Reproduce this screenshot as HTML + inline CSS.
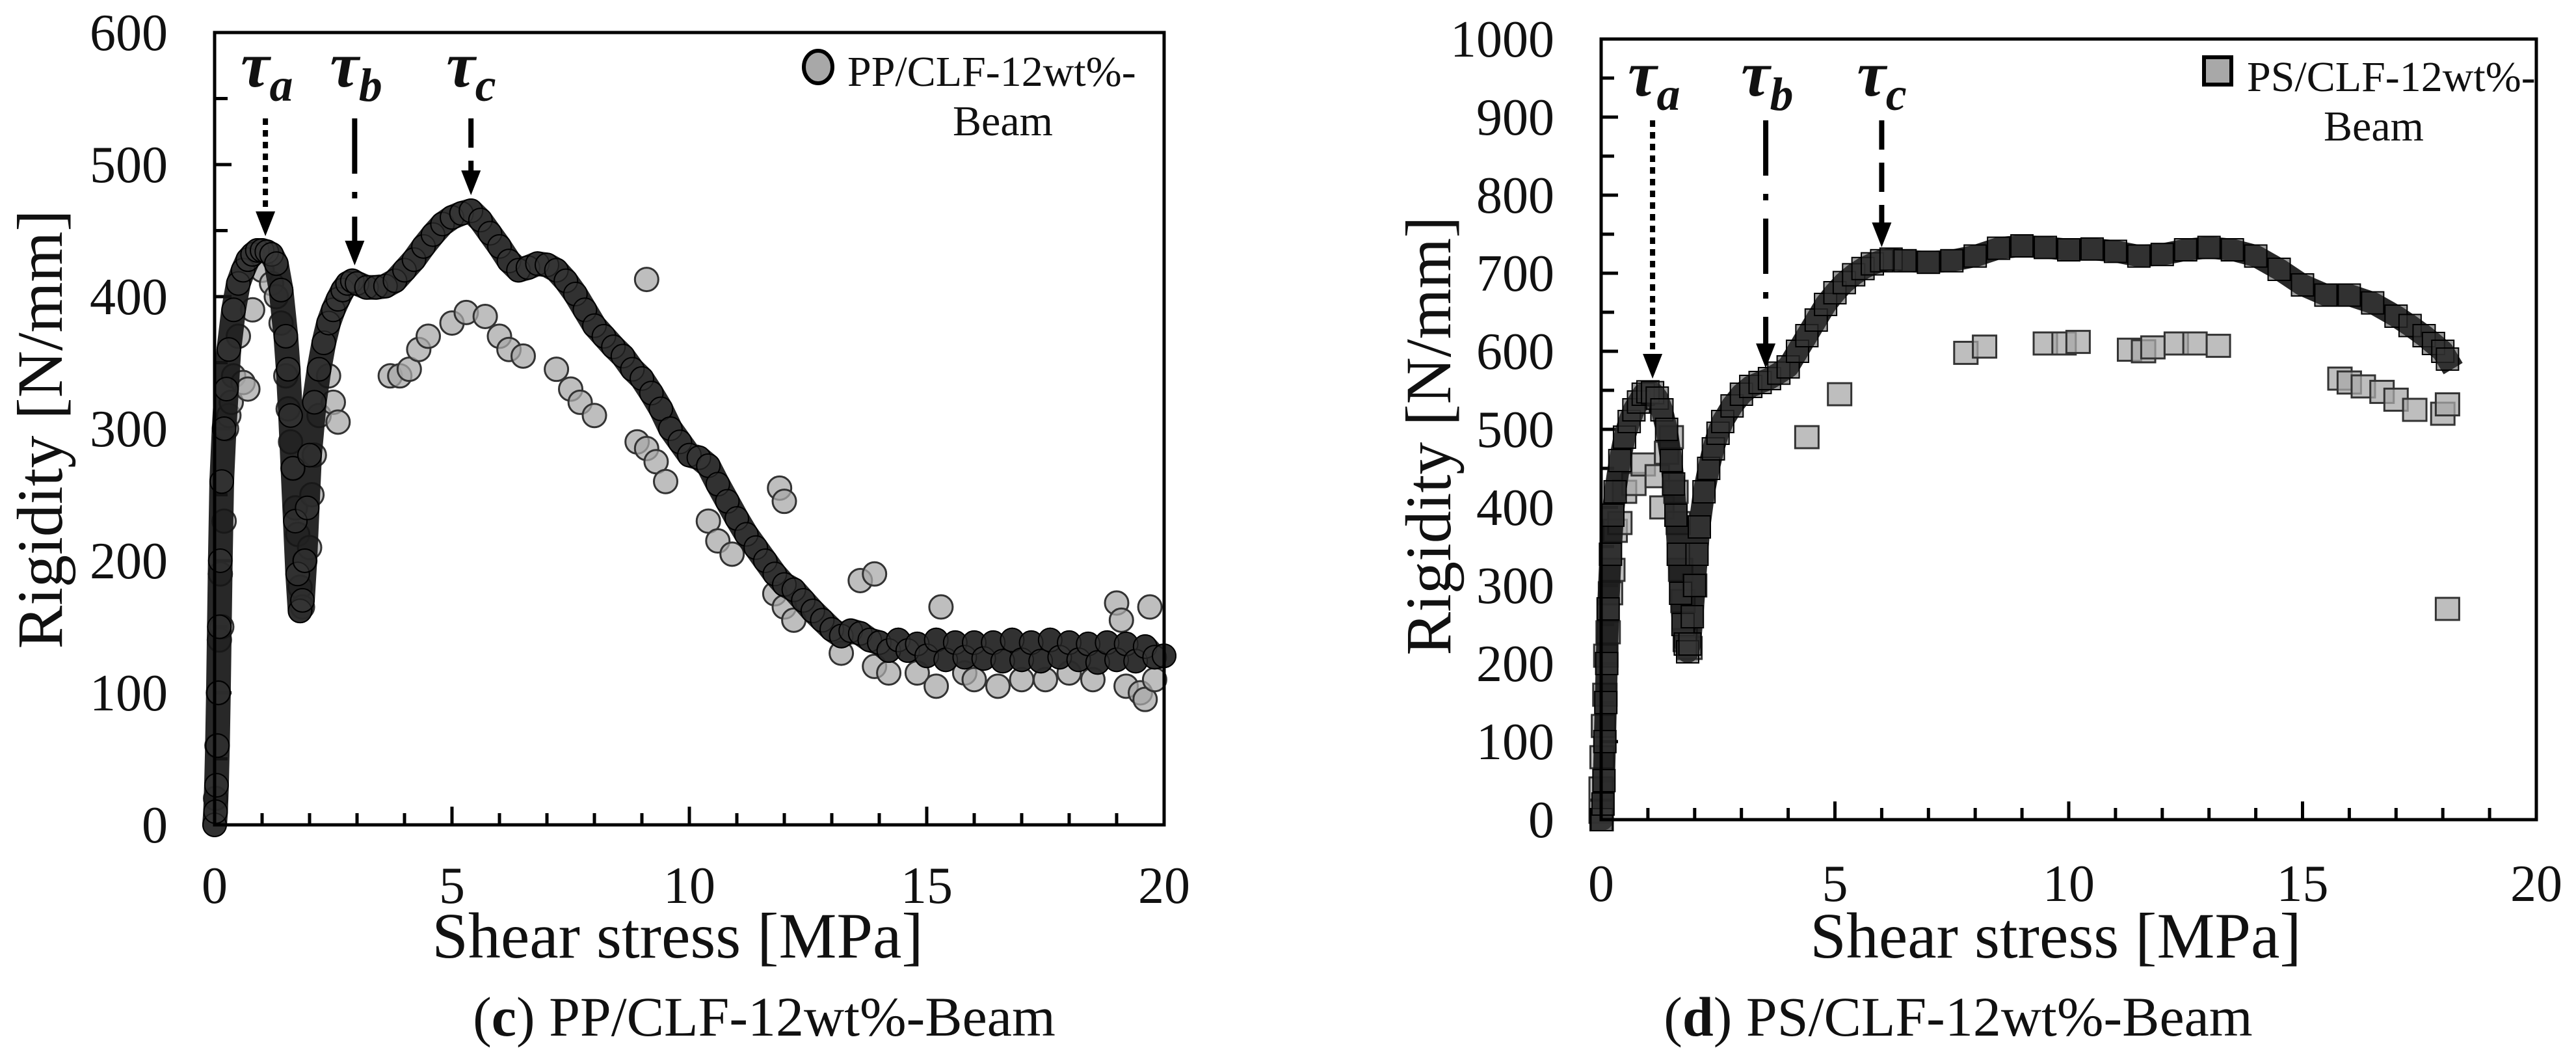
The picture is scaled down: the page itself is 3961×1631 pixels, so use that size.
<!DOCTYPE html>
<html><head><meta charset="utf-8"><style>
html,body{margin:0;padding:0;background:#fff;}
svg{display:block;}
text{font-family:"Liberation Serif",serif;fill:#111;}
</style></head><body>
<svg id="fig" width="3961" height="1631" viewBox="0 0 3961 1631" xmlns="http://www.w3.org/2000/svg">
<g id="panelC"></g>
<g id="panelD"></g>
</svg>
<script>
// ---- Panel (c) PP/CLF-12wt%-Beam data ----
const ppDarkX=[0,0.02,0.04,0.06,0.08,0.1,0.12,0.15,0.2,0.25,0.3,0.4,0.5,0.6,0.7,0.8,0.9,1.0,1.1,1.2,1.3,1.4,1.5,1.55,1.6,1.65,1.7,1.75,1.8,1.85,1.9,1.95,2.0,2.1,2.2,2.3,2.4,2.5,2.6,2.7,2.8,2.9,3.0,3.2,3.4,3.6,3.8,4.0,4.2,4.4,4.6,4.8,5.0,5.2,5.4,5.6,5.8,6.0,6.2,6.4,6.6,6.8,7.0,7.2,7.4,7.6,7.8,8.0,8.2,8.4,8.6,8.8,9.0,9.2,9.4,9.6,9.8,10.0,10.2,10.4,10.6,10.8,11.0,11.2,11.4,11.6,11.8,12.0,12.2,12.4,12.6,12.8,13.0,13.2,13.4,13.6,13.8,14.0,14.2,14.4,14.6,14.8,15.0,15.2,15.4,15.6,15.8,16.0,16.2,16.4,16.6,16.8,17.0,17.2,17.4,17.6,17.8,18.0,18.2,18.4,18.6,18.8,19.0,19.2,19.4,19.6,19.8,20.0];
const ppDarkY=[0,10,30,60,100,150,200,260,300,330,360,390,410,420,428,432,435,435,434,432,425,405,370,345,310,270,230,190,162,170,200,240,280,320,345,365,380,390,398,405,410,412,410,407,407,408,412,420,428,438,447,455,460,463,465,458,448,438,427,420,422,425,424,420,412,402,390,378,370,362,355,345,338,327,315,300,290,280,278,272,258,245,232,220,210,200,190,182,178,170,162,155,148,143,147,145,140,138,132,140,132,137,128,140,125,138,127,138,126,138,124,140,125,138,124,140,127,138,125,137,123,138,125,137,124,135,127,128];
const ppLightX=[0.02,0.05,0.08,0.1,0.12,0.15,0.2,0.25,0.3,0.35,0.4,0.5,0.6,0.7,0.8,1.0,1.2,1.3,1.4,1.5,1.55,1.6,1.65,1.7,1.75,1.8,1.85,1.9,2.0,2.05,2.1,2.2,2.4,2.5,2.6,3.7,3.9,4.1,4.3,4.5,5.0,5.3,5.7,6.0,6.2,6.5,7.2,7.5,7.7,8.0,8.9,9.1,9.3,9.5,9.1,10.4,10.6,10.9,11.9,12.0,11.8,12.0,12.2,13.2,13.6,13.9,13.9,14.2,14.8,15.2,15.3,15.8,16.0,16.5,17.0,17.5,18.0,18.5,19.0,19.1,19.2,19.5,19.7,19.6,19.8];
const ppLightY=[20,60,100,140,190,150,230,300,310,320,340,370,335,330,390,420,410,400,380,340,315,290,270,240,220,180,165,200,210,250,280,310,340,320,305,340,340,345,360,370,380,388,385,370,360,355,345,330,320,310,290,285,275,260,413,230,215,205,255,245,175,165,155,130,185,190,120,115,115,105,165,115,110,105,110,110,115,110,168,155,105,100,165,95,110];
const ppYTicks=[0,100,200,300,400,500,600];
const ppXTicks=[0,5,10,15,20];
// ---- Panel (d) PS/CLF-12wt%-Beam data ----
const psDarkX=[0,0.02,0.04,0.06,0.08,0.1,0.12,0.15,0.2,0.25,0.3,0.4,0.5,0.6,0.7,0.8,0.9,1.0,1.1,1.2,1.3,1.4,1.5,1.55,1.6,1.65,1.7,1.75,1.8,1.85,1.9,1.95,2.0,2.05,2.1,2.2,2.3,2.4,2.5,2.6,2.8,3.0,3.2,3.4,3.6,3.8,4.0,4.2,4.4,4.6,4.8,5.0,5.2,5.4,5.6,5.8,6.0,6.2,6.5,7.0,7.5,8.0,8.5,9.0,9.5,10.0,10.5,11.0,11.5,12.0,12.5,13.0,13.5,14.0,14.5,15.0,15.5,16.0,16.5,17.0,17.3,17.6,17.8,18.0,18.1];
const psDarkY=[0,0,20,50,100,150,200,270,340,390,420,460,490,510,525,535,545,548,547,540,525,500,460,430,390,340,290,250,225,215,225,260,300,340,375,420,450,475,495,510,530,545,555,560,565,572,580,600,620,640,660,675,688,698,706,712,716,718,716,714,716,722,732,735,733,730,731,728,722,724,730,733,730,722,705,685,672,672,662,645,633,620,610,600,590];
const psLightX=[0,0,0.02,0.05,0.08,0.1,0.15,0.2,0.25,0.3,0.4,0.5,0.7,0.9,1.2,1.3,1.4,1.5,1.6,1.65,1.7,1.75,1.8,1.9,2.0,4.4,5.1,7.8,8.2,9.5,9.9,10.2,11.3,11.6,11.8,12.3,12.7,13.2,15.8,16.0,16.3,16.7,17.0,17.4,18.0,18.1,18.1];
const psLightY=[10,40,80,120,160,210,240,290,320,370,380,420,430,455,440,400,470,490,420,380,320,280,230,220,300,490,545,598,606,610,610,612,602,600,605,610,610,607,565,560,555,548,538,525,520,532,270];
const psYTicks=[0,100,200,300,400,500,600,700,800,900,1000];
const psXTicks=[0,5,10,15,20];

const NS="http://www.w3.org/2000/svg";
function mk(parent,tag,attrs,txt){const e=document.createElementNS(NS,tag);for(const k in attrs)e.setAttribute(k,attrs[k]);if(txt!==undefined)e.textContent=txt;parent.appendChild(e);return e;}

function panel(cfg){
  const g=document.getElementById(cfg.id);
  const sx=v=>cfg.x0+(v-0)/20*(cfg.x1-cfg.x0);
  const sy=v=>cfg.y0-(v/cfg.ymax)*(cfg.y0-cfg.y1);
  const step=cfg.ymax/(cfg.yTicks.length-1);
  for(let k=0;k<=(cfg.yTicks.length-1)*2;k++){
    const v=k*step/2;
    const major=k%2===0;
    const t=mk(g,'line',{x1:cfg.x0,x2:cfg.x0+(major?26:20),y1:sy(v),y2:sy(v),stroke:'#000','stroke-width':5});
    
    
  }
  for(let v=1;v<20;v++){
    const major=v%5===0;
    const t=mk(g,'line',{x1:sx(v),x2:sx(v),y1:cfg.y0,y2:cfg.y0-(major?28:18),stroke:'#000','stroke-width':5});
    
    
  }
  cfg.yTicks.forEach(v=>{
    const t=mk(g,'text',{x:cfg.ylabX,y:sy(v)+27,'text-anchor':'end','font-size':80},String(v));
    
    
  });
  cfg.xTicks.forEach(v=>{
    const t=mk(g,'text',{x:sx(v),y:cfg.xlabY,'text-anchor':'middle','font-size':80},String(v));
    
    
  });
  // light series
  const lg=mk(g,'g',{});
  
  
  const ln=Math.min(cfg.lx.length,cfg.ly.length);
  for(let i=0;i<ln;i++){
    const x=cfg.lx[i];
    const m=cfg.square?mk(lg,'rect',{x:sx(x)-18,y:sy(cfg.ly[i])-17,width:36,height:34,fill:'#a8a8a8','fill-opacity':0.75,stroke:'#333','stroke-width':3}):
      mk(lg,'circle',{cx:sx(x),cy:sy(cfg.ly[i]),r:18,fill:'#a8a8a8','fill-opacity':0.75,stroke:'#333','stroke-width':3});
    
    
  }
  // dark series
  const dg=mk(g,'g',{});
  
  
  const dn=Math.min(cfg.dx.length,cfg.dy.length);
  const pts=[];
  for(let i=0;i<dn;i++)pts.push(sx(cfg.dx[i])+','+sy(cfg.dy[i]));
  const band=mk(dg,'polyline',{points:pts.join(' '),fill:'none',stroke:'#161616','stroke-width':cfg.square?34:38,'stroke-linejoin':'round','stroke-linecap':cfg.square?'square':'round','stroke-opacity':0.92});
  
  
  for(let i=0;i<dn;i++){
    const x=cfg.dx[i];
    const m=cfg.square?mk(dg,'rect',{x:sx(x)-17,y:sy(cfg.dy[i])-17,width:34,height:34,fill:'#3a3a3a','fill-opacity':0.5,stroke:'#000','stroke-width':2}):
      mk(dg,'circle',{cx:sx(x),cy:sy(cfg.dy[i]),r:18,fill:'#3a3a3a','fill-opacity':0.5,stroke:'#000','stroke-width':2});
    
    
  }
  // frame
  const fr=mk(g,'rect',{x:cfg.x0,y:cfg.y1,width:cfg.x1-cfg.x0,height:cfg.y0-cfg.y1,fill:'none',stroke:'#000','stroke-width':5});
  
  
  // arrows
  cfg.arrows.forEach(a=>{
    const ax=sx(a.x);
    const l=mk(g,'line',{x1:ax,x2:ax,y1:cfg.arrowTop,y2:a.tip-34,stroke:'#000','stroke-width':8,'stroke-dasharray':a.dash});
    
    
    const hd=mk(g,'polygon',{points:`${ax-15},${a.tip-38} ${ax+15},${a.tip-38} ${ax},${a.tip}`,fill:'#000'});
    
    
    const t=mk(g,'text',{x:ax-38,y:cfg.tauY,'font-size':100,'font-weight':'bold','font-style':'italic'});
    
    
    mk(t,'tspan',{},'τ');
    mk(t,'tspan',{dy:22,'font-size':72},a.name);
  });
  // legend
  const lgd=mk(g,'g',{});
  
  
  if(cfg.square) mk(lgd,'rect',{x:cfg.legX-21,y:cfg.legY-31-21,width:42,height:42,fill:'#a8a8a8',stroke:'#000','stroke-width':6});
  else mk(lgd,'ellipse',{cx:cfg.legX,cy:cfg.legY-29,rx:22,ry:25,fill:'#a8a8a8',stroke:'#000','stroke-width':6});
  mk(lgd,'text',{x:cfg.legX+45,y:cfg.legY,'font-size':66,fill:'#222'},cfg.legText);
  mk(lgd,'text',{x:cfg.beamX,y:cfg.legY+76,'font-size':66,'text-anchor':'middle',fill:'#222'},'Beam');
  // axis titles
  const xt=mk(g,'text',{x:cfg.xTitleX,y:1472,'text-anchor':'middle','font-size':100},'Shear stress [MPa]');
  
  
  const yt=mk(g,'text',{x:0,y:0,'text-anchor':'middle','font-size':100,transform:`translate(${cfg.yTitleX},${cfg.yTitleY}) rotate(-90)`},'Rigidity [N/mm]');
  
  
  const cap=mk(g,'text',{x:cfg.capX,y:1592,'text-anchor':'middle','font-size':86});
  
  
  mk(cap,'tspan',{},'(');
  mk(cap,'tspan',{'font-weight':'bold'},cfg.letter);
  mk(cap,'tspan',{},') '+cfg.capText);
}

panel({id:'panelC',x0:330,x1:1790,y0:1268,y1:50,ymax:600,yTicks:ppYTicks,xTicks:ppXTicks,ylabX:258,xlabY:1388,
  dx:ppDarkX,dy:ppDarkY,lx:ppLightX,ly:ppLightY,square:false,
  arrows:[{name:'a',x:1.07,tip:363,dash:'10 8'},{name:'b',x:2.95,tip:408,dash:'85 28 10 28'},{name:'c',x:5.4,tip:300,dash:'45 20'}],
  arrowTop:182,tauY:133,legX:1258,legY:132,legText:'PP/CLF-12wt%-',beamX:1542,
  xTitleX:1042,yTitleX:95,yTitleY:660,capX:1175,letter:'c',capText:'PP/CLF-12wt%-Beam'});
panel({id:'panelD',x0:2462,x1:3900,y0:1260,y1:60,ymax:1000,yTicks:psYTicks,xTicks:psXTicks,ylabX:2390,xlabY:1385,
  dx:psDarkX,dy:psDarkY,lx:psLightX,ly:psLightY,square:true,
  arrows:[{name:'a',x:1.1,tip:582,dash:'10 8'},{name:'b',x:3.52,tip:566,dash:'85 28 10 28'},{name:'c',x:6.0,tip:380,dash:'45 20'}],
  arrowTop:185,tauY:147,legX:3410,legY:140,legText:'PS/CLF-12wt%-',beamX:3650,
  xTitleX:3161,yTitleX:2230,yTitleY:670,capX:3011,letter:'d',capText:'PS/CLF-12wt%-Beam'});
</script>
</body></html>
